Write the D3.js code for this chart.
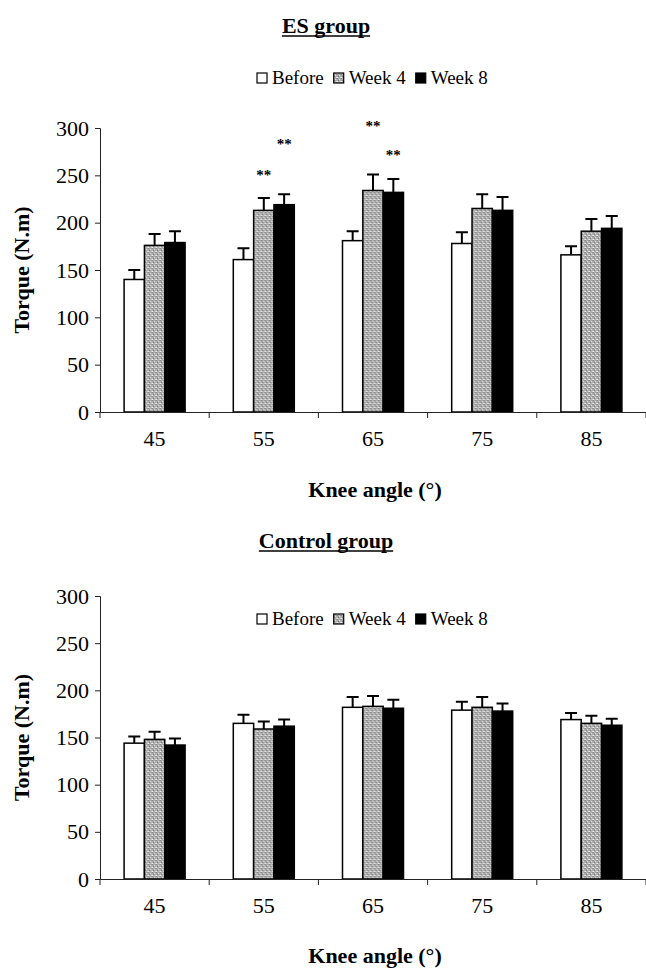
<!DOCTYPE html>
<html>
<head>
<meta charset="utf-8">
<script src="https://cdn.jsdelivr.net/npm/d3@7"></script>
<style>
  body { margin: 0; background: #fff; }
  svg { display: block; font-family: "Liberation Serif", "Times New Roman", serif; }
</style>
</head>
<body>
<svg id="chart" width="646" height="968"></svg>
<script>
var angles = ["45", "55", "65", "75", "85"],
    series = ["Before", "Week 4", "Week 8"],
    yTicks = [0, 50, 100, 150, 200, 250, 300];

// ES group
var esBefore = [140, 161, 181, 178, 166],
    esBeforeErr = [10, 12, 10, 12, 9],
    esWeek4 = [176, 213, 234, 215, 191],
    esWeek4Err = [12, 13, 17, 15, 13],
    esWeek8 = [179, 219, 232, 213, 194],
    esWeek8Err = [12, 11, 14, 14, 13];

// control group
var ctrlBefore = [144, 165, 182, 179, 169],
    ctrlBeforeErr = [7, 9, 11, 9, 7],
    ctrlWeek4 = [148, 159, 183, 182, 165],
    ctrlWeek4Err = [8, 8, 11, 11, 8],
    ctrlWeek8 = [142, 162, 181, 178, 163],
    ctrlWeek8Err = [7, 7, 9, 8, 7];

// significance marks (torque level where the ** sits)
var esStars = [
  {angle: "55", series: "Week 4", level: 253},
  {angle: "55", series: "Week 8", level: 286},
  {angle: "65", series: "Week 4", level: 305},
  {angle: "65", series: "Week 8", level: 275}
];

var svg = d3.select("#chart");

// speckled grey fill for Week 4
var defs = svg.append("defs");
var pat = defs.append("pattern")
    .attr("id", "speckle")
    .attr("width", 4).attr("height", 4)
    .attr("patternUnits", "userSpaceOnUse");
pat.append("rect").attr("width", 4).attr("height", 4).attr("fill", "#b0b0b0");
[[0,0,"#858585"],[2,1,"#e0e0e0"],[1,2,"#777"],[3,3,"#d6d6d6"],[3,0,"#959595"],[0,3,"#eeeeee"],[1,1,"#9c9c9c"]]
  .forEach(function(p) {
    pat.append("rect").attr("x", p[0]).attr("y", p[1]).attr("width", 1).attr("height", 1).attr("fill", p[2]);
  });

var fills = {"Before": "#fff", "Week 4": "url(#speckle)", "Week 8": "#000"};

function rows(vals, errs) {
  return angles.map(function(a, i) {
    return series.map(function(s, j) {
      return {angle: a, series: s, value: vals[j][i], err: errs[j][i]};
    });
  });
}

function drawPanel(opts) {
  var g = svg.append("g");
  var x0 = d3.scaleBand().domain(angles).range([100, 646]);
  var groupW = 61;
  var x1 = d3.scaleBand().domain(series).range([0, groupW]);
  var y = d3.scaleLinear().domain([0, 300]).range([opts.y0, opts.y300]);

  // title
  var t = g.append("text")
      .attr("x", 326).attr("y", opts.titleY)
      .attr("text-anchor", "middle")
      .attr("font-weight", "bold").attr("font-size", 22)
      .text(opts.title);
  var bb = t.node().getBBox();
  g.append("line")
      .attr("x1", bb.x).attr("x2", bb.x + bb.width)
      .attr("y1", opts.titleY + 3).attr("y2", opts.titleY + 3)
      .attr("stroke", "#000").attr("stroke-width", 1.6);

  // bars
  var grp = g.selectAll("g.grp")
    .data(opts.data)
    .enter().append("g")
      .attr("transform", function(d) {
        return "translate(" + (x0(d[0].angle) + (x0.bandwidth() - groupW) / 2) + ",0)";
      });

  grp.selectAll("line.err")
    .data(function(d) { return d; })
    .enter().append("path")
      .attr("d", function(d) {
        var cx = x1(d.series) + x1.bandwidth() / 2, yt = y(d.value + d.err);
        return "M" + cx + "," + y(d.value) + "V" + yt + "M" + (cx - 6) + "," + yt + "H" + (cx + 6);
      })
      .attr("stroke", "#000").attr("stroke-width", 2).attr("fill", "none");

  grp.selectAll("rect")
    .data(function(d) { return d; })
    .enter().append("rect")
      .attr("x", function(d) { return x1(d.series); })
      .attr("y", function(d) { return y(d.value); })
      .attr("width", x1.bandwidth())
      .attr("height", function(d) { return y(0) - y(d.value); })
      .attr("fill", function(d) { return fills[d.series]; })
      .attr("stroke", "#000").attr("stroke-width", 1.5);

  // axes
  var yAxis = d3.axisLeft(y).tickValues(yTicks).tickSize(5).tickPadding(6);
  g.append("g")
      .attr("transform", "translate(100,0)")
      .call(yAxis)
      .call(function(s) {
        s.selectAll("text").attr("font-size", 22).attr("font-family", "Liberation Serif").attr("fill", "#000");
        s.selectAll("line, path").attr("stroke", "#222");
      });

  var xAxis = d3.axisBottom(x0).tickSize(0).tickPadding(18);
  var xa = g.append("g")
      .attr("transform", "translate(0," + opts.y0 + ")")
      .call(xAxis);
  xa.select(".domain").attr("stroke", "#222");
  xa.selectAll("text").attr("font-size", 22).attr("font-family", "Liberation Serif").attr("fill", "#000");
  xa.selectAll("line.sep")
    .data(angles.concat(["end"]))
    .enter().append("line")
      .attr("class", "sep")
      .attr("x1", function(d, i) { return 100 + i * x0.step(); })
      .attr("x2", function(d, i) { return 100 + i * x0.step(); })
      .attr("y1", 0).attr("y2", 6)
      .attr("stroke", "#222");

  // axis titles
  g.append("text")
      .attr("transform", "translate(29," + (opts.y0 + opts.y300) / 2 + ") rotate(-90)")
      .attr("text-anchor", "middle")
      .attr("font-weight", "bold").attr("font-size", 22)
      .text("Torque (N.m)");
  g.append("text")
      .attr("x", 375).attr("y", opts.xTitleY)
      .attr("text-anchor", "middle")
      .attr("font-weight", "bold").attr("font-size", 22)
      .text("Knee angle (°)");

  // legend
  var lg = g.append("g").attr("transform", "translate(257," + opts.legendY + ")");
  var lx = 0;
  series.forEach(function(s) {
    lg.append("rect")
        .attr("x", lx).attr("y", -5).attr("width", 10).attr("height", 10)
        .attr("fill", fills[s]).attr("stroke", "#000").attr("stroke-width", 1.2);
    var tt = lg.append("text")
        .attr("x", lx + 15).attr("y", 6)
        .attr("font-size", 19)
        .text(s);
    lx += 15 + tt.node().getComputedTextLength() + 10;
  });

  // stars
  g.selectAll("text.star")
    .data(opts.stars)
    .enter().append("text")
      .attr("class", "star")
      .attr("x", function(d) {
        return x0(d.angle) + (x0.bandwidth() - groupW) / 2 + x1(d.series) + x1.bandwidth() / 2;
      })
      .attr("y", function(d) { return y(d.level) + 8; })
      .attr("text-anchor", "middle")
      .attr("font-weight", "bold").attr("font-size", 15)
      .text("**");
}

drawPanel({
  title: "ES group", titleY: 33, legendY: 78,
  y0: 412, y300: 128, xTitleY: 497,
  data: rows([esBefore, esWeek4, esWeek8], [esBeforeErr, esWeek4Err, esWeek8Err]),
  stars: esStars
});

drawPanel({
  title: "Control group", titleY: 548, legendY: 619,
  y0: 879, y300: 596, xTitleY: 963,
  data: rows([ctrlBefore, ctrlWeek4, ctrlWeek8], [ctrlBeforeErr, ctrlWeek4Err, ctrlWeek8Err]),
  stars: []
});
</script>
</body>
</html>
